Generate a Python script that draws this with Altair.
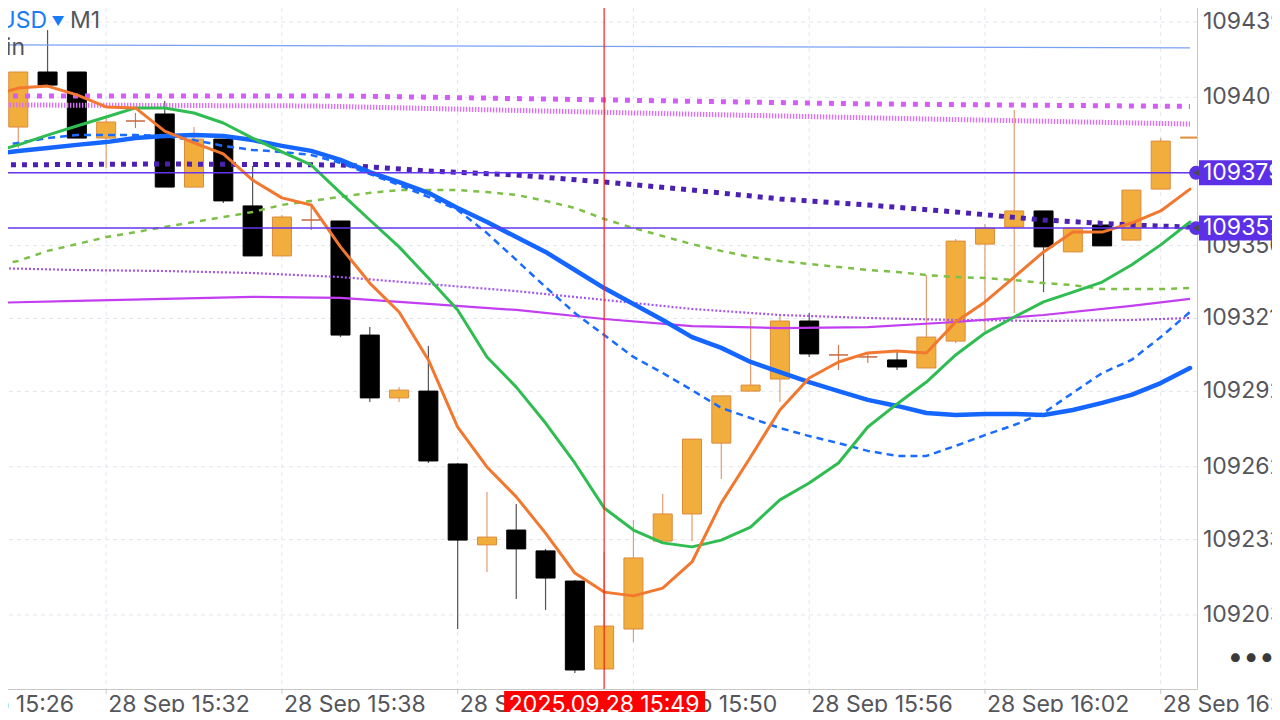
import altair as alt
import pandas as pd

# ---------------- data (minutes after 15:00, 28 Sep 2025) ----------------
candle_min = list(range(29, 70))
opens = [109397.2, 109419.1, 109419.1, 109392.8, 109399.6, 109402.4, 109373.3, 109392.4, 109365.8, 109345.9,
         109360.2, 109359.8, 109314.4, 109289.4, 109292.1, 109263.1, 109230.9, 109236.8, 109228.5, 109216.5,
         109181.5, 109197.4, 109232.4, 109243.2, 109271.4, 109292.1, 109296.9, 109320.0, 109306.5, 109305.7,
         109304.5, 109301.3, 109312.0, 109350.6, 109357.4, 109363.8, 109347.5, 109358.2, 109352.2, 109372.5,
         109392.8]
highs = [109419.1, 109435.8, 109419.1, 109401.2, 109402.8, 109407.6, 109397.2, 109392.4, 109381.7, 109362.2,
         109366.2, 109359.8, 109317.6, 109293.7, 109310.1, 109263.5, 109251.9, 109247.2, 109229.3, 109216.9,
         109228.1, 109240.8, 109251.2, 109273.0, 109290.2, 109321.2, 109322.4, 109323.2, 109310.5, 109307.7,
         109307.7, 109338.3, 109352.6, 109358.6, 109404.0, 109363.8, 109357.0, 109358.2, 109372.1, 109392.8,
         109393.2]
lows = [109388.9, 109413.9, 109392.8, 109380.9, 109396.8, 109373.3, 109373.3, 109367.0, 109345.9, 109345.9,
        109356.2, 109313.6, 109287.8, 109287.8, 109263.5, 109197.4, 109220.1, 109209.4, 109205.0, 109179.9,
        109181.5, 109192.2, 109232.4, 109232.4, 109257.1, 109292.1, 109287.8, 109305.7, 109300.5, 109303.3,
        109300.5, 109301.3, 109311.2, 109316.0, 109323.2, 109331.5, 109347.5, 109349.9, 109352.2, 109372.5,
        109392.8]
closes = [109419.1, 109413.9, 109392.8, 109399.2, 109399.6, 109373.3, 109392.4, 109367.8, 109345.9, 109361.4,
          109360.2, 109314.4, 109289.4, 109292.5, 109264.3, 109232.8, 109234.0, 109229.3, 109217.7, 109181.1,
          109198.6, 109225.7, 109243.2, 109273.0, 109290.2, 109294.5, 109320.0, 109306.9, 109306.5, 109305.7,
          109301.7, 109313.6, 109351.8, 109357.0, 109363.8, 109349.5, 109357.0, 109349.9, 109372.1, 109391.6,
          109393.2]

line_min = list(range(28, 70))
ma_orange = [109409.2, 109412.7, 109413.5, 109410.0, 109405.2, 109404.8, 109395.6, 109390.9, 109386.5, 109376.1,
             109369.0, 109366.2, 109349.5, 109335.1, 109323.6, 109304.5, 109277.8, 109261.9, 109250.0, 109235.6,
             109219.7, 109212.1, 109210.6, 109213.7, 109224.1, 109247.6, 109265.9, 109284.6, 109297.3, 109303.7,
             109307.3, 109308.1, 109307.3, 109319.6, 109327.6, 109337.5, 109347.5, 109355.4, 109355.4, 109359.0,
             109363.8, 109372.5]
ma_green = [109386.9, 109390.1, 109394.0, 109397.6, 109401.2, 109404.8, 109404.8, 109402.8, 109398.8, 109392.8,
            109387.3, 109382.1, 109371.0, 109360.2, 109349.5, 109337.1, 109324.4, 109305.7, 109293.7, 109279.4,
            109263.5, 109245.6, 109236.8, 109231.7, 109230.1, 109232.8, 109238.0, 109248.8, 109255.5, 109263.5,
            109277.8, 109287.0, 109295.7, 109306.5, 109315.2, 109321.6, 109327.6, 109331.5, 109335.5, 109342.3,
            109350.3, 109359.4]
ma_blue = [109386.1, 109387.7, 109388.9, 109390.1, 109391.2, 109392.8, 109393.6, 109394.0, 109393.6, 109392.0,
           109389.7, 109387.7, 109384.1, 109379.3, 109375.3, 109371.0, 109365.0, 109359.4, 109353.4, 109347.5,
           109340.3, 109333.1, 109326.8, 109320.4, 109313.6, 109309.3, 109303.7, 109299.7, 109295.7, 109292.1,
           109288.6, 109286.2, 109283.4, 109282.6, 109283.0, 109283.0, 109282.6, 109284.6, 109287.4, 109290.6,
           109295.3, 109301.3]
ma_blue_dash = [109388.9, 109390.9, 109392.8, 109394.0, 109394.0, 109394.0, 109393.6, 109392.0, 109389.7, 109388.1,
                109387.3, 109386.1, 109382.9, 109378.5, 109374.1, 109369.4, 109364.2, 109355.0, 109344.3, 109333.5,
                109323.2, 109314.4, 109305.7, 109299.3, 109292.5, 109285.4, 109281.4, 109277.4, 109274.2, 109271.4,
                109268.3, 109266.3, 109266.3, 109270.3, 109274.6, 109278.6, 109283.4, 109291.4, 109299.3, 109304.5,
                109313.6, 109323.6]
ma_green_dash = [109341.9, 109343.9, 109347.9, 109350.6, 109353.4, 109355.4, 109357.4, 109359.4, 109361.4, 109363.4,
                 109366.2, 109367.8, 109369.4, 109371.0, 109372.1, 109372.1, 109372.1, 109371.3, 109370.2, 109367.8,
                 109365.0, 109360.6, 109357.0, 109353.8, 109350.6, 109347.9, 109345.5, 109343.9, 109342.7, 109341.5,
                 109340.3, 109339.5, 109338.3, 109337.5, 109337.1, 109336.3, 109335.1, 109334.3, 109332.7, 109332.7,
                 109332.7, 109333.1]

slow_min = [28, 31, 34, 37, 40, 43, 46, 49, 52, 55, 58, 61, 64, 67, 69]
ma_magenta = [109327.2, 109328.0, 109328.8, 109329.6, 109329.2, 109326.8, 109324.4, 109320.8, 109318.0, 109317.2,
              109317.6, 109319.6, 109322.4, 109326.0, 109328.8]
ma_violet_dot = [109341.1, 109340.3, 109339.9, 109339.1, 109337.5, 109334.7, 109331.9, 109328.4, 109324.8, 109322.4,
                 109321.2, 109320.4, 109320.0, 109320.4, 109321.2]

purple_min = [28, 34, 40, 43, 46, 49, 52, 55, 58, 61, 64, 67, 69]
ma_purple_sq = [109382.1, 109382.5, 109382.1, 109379.7, 109378.1, 109375.3, 109372.1, 109368.6, 109366.2, 109363.4,
                109360.2, 109358.2, 109357.4]

pink_sq_min = [28, 40, 49, 58, 69]
ma_pink_sq = [109409.6, 109409.6, 109408.0, 109406.4, 109405.4]
pink_fine_min = [28, 39, 50, 60, 69]
ma_pink_fine = [109406.0, 109405.6, 109402.8, 109400.4, 109398.4]
blue_thin_min = [28, 69]
ma_blue_thin = [109429.9, 109428.7]

hlines = [109379, 109357]
y_ticks = [109203, 109233, 109262, 109292, 109321, 109350, 109379, 109409, 109439]
x_tick_min = [26, 32, 38, 44, 50, 56, 62, 68]
x_tick_labels = ["28 Sep 15:26", "28 Sep 15:32", "28 Sep 15:38", "28 Sep 15:44",
                 "28 Sep 15:50", "28 Sep 15:56", "28 Sep 16:02", "28 Sep 16:08"]
cursor_min = [49]
cursor_label = ["2025.09.28 15:49"]

# ---------------- tables ----------------
cd = pd.DataFrame({"m": candle_min, "o": opens, "h": highs, "l": lows, "c": closes})
cd["kind"] = ["up" if c > o else ("down" if c < o else "doji") for o, c in zip(cd.o, cd.c)]
cd["fill"] = cd.kind.map({"up": "#f2ae3d", "down": "#000000", "doji": "#c4693f"})
cd["edge"] = cd.kind.map({"up": "#dc8a3c", "down": "#000000", "doji": "#c4693f"})
cd["wick"] = cd.kind.map({"up": "#e59c72", "down": "#555555", "doji": "#c97a55"})

FONT = "Inter"
FS = 23
W, H = 1197, 689
xs = alt.Scale(domain=[28.547, 69.068], nice=False, zero=False)
ys = alt.Scale(domain=[109173.54, 109447.76], nice=False, zero=False)


def X(f="m"):
    return alt.X(f"{f}:Q", scale=xs, axis=None)


def Y(f="v"):
    return alt.Y(f"{f}:Q", scale=ys, axis=None)


def series(mins, vals, color, width, dash=None, cap="butt"):
    kw = dict(color=color, strokeWidth=width, clip=True, strokeCap=cap, strokeJoin="round")
    if dash:
        kw["strokeDash"] = dash
    return alt.Chart(pd.DataFrame({"m": mins, "v": vals})).mark_line(**kw).encode(x=X(), y=Y())


layers = []

# grid
layers.append(alt.Chart(pd.DataFrame({"v": y_ticks})).mark_rule(
    color="#e2e6ee", strokeDash=[4, 4], strokeWidth=1, clip=True).encode(y=Y()))
layers.append(alt.Chart(pd.DataFrame({"m": x_tick_min})).mark_rule(
    color="#e2e6ee", strokeDash=[4, 4], strokeWidth=1, clip=True).encode(x=X()))
layers.append(alt.Chart(pd.DataFrame({"m": x_tick_min})).mark_rule(
    color="#c8c8c8", strokeWidth=1, clip=False).encode(x=X(), y=alt.value(H), y2=alt.value(H + 5)))

# candles
layers.append(alt.Chart(cd).mark_rule(strokeWidth=1.2, clip=True).encode(
    x=X(), y=Y("l"), y2=alt.Y2("h:Q"), color=alt.Color("wick:N", scale=None)))
layers.append(alt.Chart(cd).mark_bar(size=19, strokeWidth=1, clip=True).encode(
    x=X(), y=Y("o"), y2=alt.Y2("c:Q"),
    fill=alt.Fill("fill:N", scale=None), stroke=alt.Stroke("edge:N", scale=None)))

# indicator lines
layers += [
    series(blue_thin_min, ma_blue_thin, "#7aa0f4", 1.2),
    series(pink_sq_min, ma_pink_sq, "#d65cf6", 5, [5, 7]),
    series(pink_fine_min, ma_pink_fine, "#da72f8", 5, [1.4, 1.6]),
    series(slow_min, ma_violet_dot, "#a456f2", 2.2, [2, 2]),
    series(slow_min, ma_magenta, "#c23ef0", 2.2),
    series(line_min, ma_green_dash, "#7cc046", 2.5, [6, 6]),
    series(purple_min, ma_purple_sq, "#4d20b4", 5, [5, 6]),
    series(line_min, ma_blue_dash, "#1a6cff", 2.5, [7, 5]),
    series(line_min, ma_blue, "#1565ff", 4.5, cap="round"),
    series(line_min, ma_green, "#2fbd52", 3, cap="round"),
    series(line_min, ma_orange, "#f2772f", 3, cap="round"),
]

# horizontal levels
hl = pd.DataFrame({"v": hlines, "t": [str(v) for v in hlines]})
layers.append(alt.Chart(hl).mark_rule(color="#6536ee", strokeWidth=1.6, clip=True).encode(y=Y()))

# cursor line
cur = pd.DataFrame({"m": cursor_min, "t": cursor_label})
layers.append(alt.Chart(cur).mark_rule(color="#ff1a1a", strokeWidth=1.2, clip=True).encode(x=X()))

# y labels (right)
layers.append(alt.Chart(pd.DataFrame({"v": y_ticks, "t": [str(v) for v in y_ticks]})).mark_text(
    align="left", baseline="middle", font=FONT, fontSize=FS, color="#55555c", clip=False).encode(
    y=Y(), x=alt.value(W + 6), text="t:N"))

# x labels (bottom)
layers.append(alt.Chart(pd.DataFrame({"m": x_tick_min, "t": x_tick_labels})).mark_text(
    align="left", baseline="middle", font=FONT, fontSize=FS, dx=2, color="#55555c", clip=False).encode(
    x=X(), y=alt.value(H + 16), text="t:N"))

# price boxes for levels
layers.append(alt.Chart(hl).mark_rect(color="#5b30e6", yOffset=-12.5, y2Offset=12.5, clip=False).encode(
    y=Y(), y2=alt.Y2("v:Q"), x=alt.value(W + 2), x2=alt.value(W + 100)))
layers.append(alt.Chart(hl).mark_text(align="left", baseline="middle", font=FONT, fontSize=FS,
                                      color="white", clip=False).encode(
    y=Y(), x=alt.value(W + 6), text="t:N"))
layers.append(alt.Chart(hl).mark_point(shape="circle", filled=True, size=190, color="#5b30e6",
                                       opacity=1, clip=False).encode(y=Y(), x=alt.value(W - 1)))
layers.append(alt.Chart(hl).mark_point(shape="triangle-left", filled=True, size=45, color="#4a4a4a",
                                       opacity=1, clip=False).encode(y=Y(), x=alt.value(W - 1)))

# cursor date box
layers.append(alt.Chart(cur).mark_rect(color="#ff0000", xOffset=-100, x2Offset=101, clip=False).encode(
    x=X(), x2=alt.X2("m:Q"), y=alt.value(H + 2), y2=alt.value(H + 29)))
layers.append(alt.Chart(cur).mark_text(align="center", baseline="middle", font=FONT, fontSize=FS,
                                       color="white", clip=False).encode(
    x=X(), y=alt.value(H + 16), text="t:N"))

# header texts
hdr = pd.DataFrame({
    "t": ["BTCUSD", "\u25BC", "M1", "Bitcoin", "\u2022\u2022\u2022"],
    "x": [47, 58, 70, 25, 1251],
    "y": [28, 26, 28, 55, 666],
    "c": ["#1a7cf5", "#1a7cf5", "#55555c", "#55555c", "#3a3a3a"],
    "s": [23, 13, 23, 23, 28],
    "a": ["right", "center", "left", "right", "center"],
})
for _, r in hdr.iterrows():
    layers.append(alt.Chart(pd.DataFrame({"t": [r.t]})).mark_text(
        align=r.a, baseline="alphabetic", font=FONT, fontSize=int(r.s), color=r.c, clip=False).encode(
        x=alt.value(int(r.x)), y=alt.value(int(r.y)), text="t:N"))

chart = alt.layer(*layers).properties(
    width=W, height=H,
    autosize=alt.AutoSizeParams(type="none"),
    padding={"left": -8, "top": -8, "right": 75, "bottom": 23},
    background="white",
).configure_view(stroke="#c8c8c8", strokeWidth=1)

chart.save("out.html", embed_options={"renderer": "svg", "actions": False})
